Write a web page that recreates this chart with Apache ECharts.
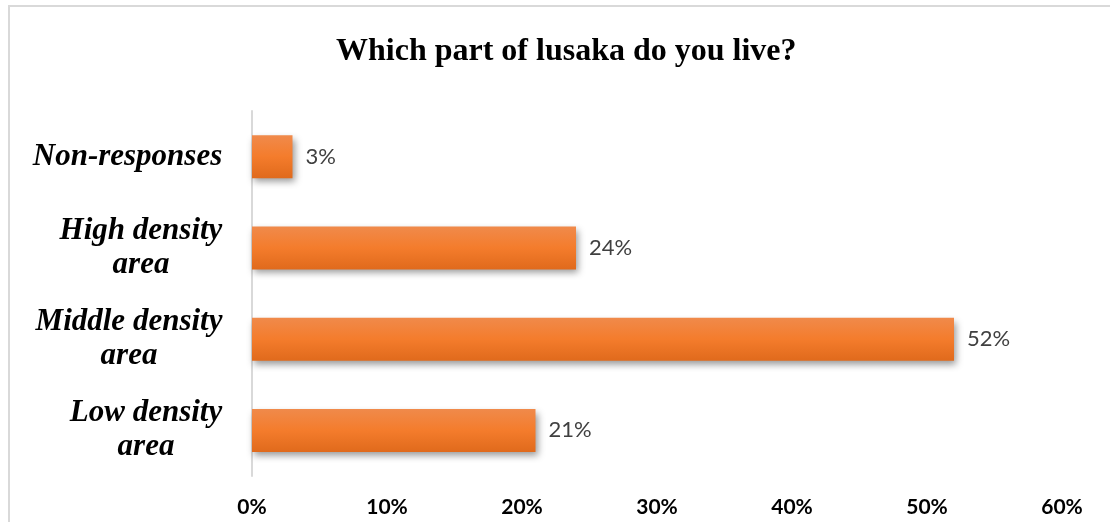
<!DOCTYPE html>
<html><head><meta charset="utf-8">
<script src="https://cdn.jsdelivr.net/npm/echarts@6/dist/echarts.min.js"></script>
<style>html,body{margin:0;padding:0;background:#fff}#c{width:1110px;height:522px}</style>
</head><body><div id="c"></div>
<script>
const titleText = 'Which part of lusaka do you live?';
const categories = ['Low density\narea', 'Middle density\narea', 'High density\narea', 'Non-responses'];
const values = [21, 52, 24, 3];
const xTicks = [0, 10, 20, 30, 40, 50, 60];

const ctx = document.createElement('canvas').getContext('2d');
ctx.font = 'bold 32px "Liberation Serif"';
const titleW = ctx.measureText(titleText).width;
ctx.font = 'italic bold 31px "Liberation Serif"';
const rich = {};
categories.forEach((c, i) => {
  const w = Math.max(...c.split('\n').map(l => ctx.measureText(l).width));
  rich['r' + i] = {width: Math.ceil(w) + 1, align: 'center', fontFamily: 'Liberation Serif',
    fontStyle: 'italic', fontWeight: 'bold', fontSize: 31, lineHeight: 34, color: '#000'};
});

const chart = echarts.init(document.getElementById('c'));
chart.setOption({
  backgroundColor: '#fff',
  animation: false,
  graphic: [{
    type: 'rect', shape: {x: 9, y: 6, width: 1120, height: 540},
    style: {fill: 'none', stroke: '#d9d9d9', lineWidth: 2}, silent: true
  }],
  title: {
    text: titleText, left: Math.round(566 - titleW / 2 - 5), top: 31,
    textStyle: {fontFamily: 'Liberation Serif', fontWeight: 'bold', fontSize: 32, color: '#000'}
  },
  grid: {left: 252, right: 48, top: 111, bottom: 46, containLabel: false},
  xAxis: {
    type: 'value', min: 0, max: 60, interval: 10,
    axisLine: {show: false}, axisTick: {show: false}, splitLine: {show: false},
    axisLabel: {formatter: v => xTicks.includes(v) ? v + '%' : '', margin: 21,
      fontFamily: 'Lato', fontWeight: 'bold', fontSize: 21, color: '#000'}
  },
  yAxis: {
    type: 'category', data: categories,
    axisLine: {show: true, lineStyle: {color: '#d9d9d9', width: 2}},
    axisTick: {show: false},
    axisLabel: {
      margin: 29, align: 'right', rich: rich,
      formatter: (v, i) => v.split('\n').map(l => '{r' + i + '|' + l + '}').join('\n')
    }
  },
  series: [{
    type: 'bar', data: values, barWidth: 43,
    itemStyle: {
      color: new echarts.graphic.LinearGradient(0, 0, 0, 1, [
        {offset: 0, color: '#F08A4B'}, {offset: 0.5, color: '#F47C2C'}, {offset: 1, color: '#E06A1C'}]),
      shadowColor: 'rgba(0,0,0,0.4)', shadowBlur: 7, shadowOffsetX: 2, shadowOffsetY: 4
    },
    label: {show: true, position: 'right', distance: 13, formatter: p => p.value + '%',
      fontFamily: 'Lato', fontSize: 22, color: '#404040'}
  }]
});
</script></body></html>
